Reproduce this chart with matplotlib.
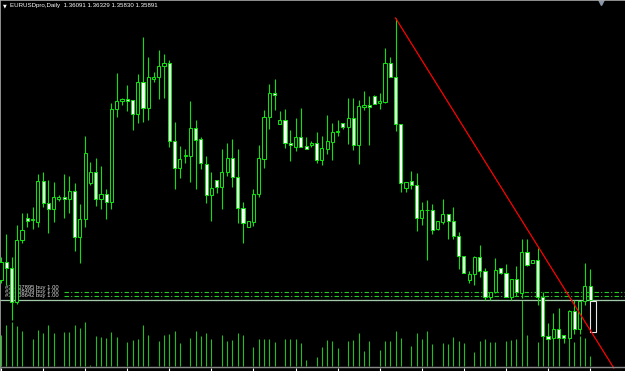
import numpy as np
import matplotlib.pyplot as plt
from matplotlib.patches import Rectangle

# EURUSDpro daily candles (oldest -> newest)
title = 'EURUSDpro,Daily  1.36091 1.36329 1.35830 1.35891'
opens = [1.3618, 1.3643, 1.3635, 1.3586, 1.3675, 1.3706, 1.3704, 1.3701, 1.3759, 1.3728,
         1.3719, 1.3733, 1.3736, 1.3733, 1.3745, 1.3679, 1.3705, 1.3756, 1.3772, 1.3733,
         1.3741, 1.3729, 1.3862, 1.3873, 1.3876, 1.3875, 1.3855, 1.3901, 1.3864, 1.3905,
         1.3908, 1.3923, 1.3928, 1.3816, 1.3778, 1.3795, 1.3795, 1.3835, 1.3819, 1.3784,
         1.3739, 1.3760, 1.3751, 1.3772, 1.3792, 1.3765, 1.3721, 1.3693, 1.3701, 1.3741,
         1.3790, 1.3851, 1.3885, 1.3841, 1.3846, 1.3813, 1.3808, 1.3822, 1.3809, 1.3811,
         1.3813, 1.3789, 1.3805, 1.3815, 1.3829, 1.3842, 1.3836, 1.3849, 1.3811, 1.3865,
         1.3868, 1.3881, 1.3871, 1.3872, 1.3928, 1.3908, 1.3841, 1.3749, 1.3759, 1.3753,
         1.3706, 1.3717, 1.3717, 1.3691, 1.3701, 1.3712, 1.3702, 1.3680, 1.3652, 1.3617,
         1.3626, 1.3650, 1.3631, 1.3593, 1.3601, 1.3635, 1.3628, 1.3593, 1.3619, 1.3599,
         1.3658, 1.3642, 1.3646, 1.3593, 1.3538, 1.3535, 1.3547, 1.3539, 1.3535, 1.3573,
         1.3548, 1.3588, 1.36091]
highs = [1.3651, 1.3683, 1.3651, 1.3696, 1.3713, 1.3713, 1.3722, 1.3769, 1.3772, 1.3761,
         1.3758, 1.3739, 1.3769, 1.3766, 1.3756, 1.3726, 1.3823, 1.3786, 1.3792, 1.3781,
         1.3748, 1.3871, 1.3913, 1.3878, 1.3896, 1.3875, 1.3912, 1.3965, 1.3936, 1.3915,
         1.3946, 1.3941, 1.3932, 1.3843, 1.3809, 1.3805, 1.3873, 1.3846, 1.3822, 1.3795,
         1.3772, 1.3761, 1.3805, 1.3813, 1.3819, 1.3805, 1.3729, 1.3702, 1.3748, 1.3811,
         1.3861, 1.3898, 1.3905, 1.3859, 1.3862, 1.3832, 1.3849, 1.3864, 1.3822, 1.3816,
         1.3829, 1.3823, 1.3854, 1.3842, 1.3846, 1.3842, 1.3878, 1.3878, 1.3875, 1.3888,
         1.3881, 1.3882, 1.3885, 1.3949, 1.3936, 1.3992, 1.3841, 1.3758, 1.3774, 1.3770,
         1.3729, 1.3732, 1.3726, 1.3702, 1.3733, 1.3712, 1.3722, 1.3686, 1.3652, 1.3631,
         1.3652, 1.3668, 1.3635, 1.3601, 1.3649, 1.3635, 1.3641, 1.3619, 1.3638, 1.3676,
         1.3676, 1.3646, 1.3664, 1.3601, 1.3556, 1.3571, 1.3578, 1.3539, 1.3575, 1.3589,
         1.3588, 1.3642, 1.36329]
lows = [1.3613, 1.3611, 1.3561, 1.3583, 1.3671, 1.3693, 1.3691, 1.3693, 1.3722, 1.3685,
        1.3701, 1.3731, 1.3706, 1.3713, 1.3659, 1.3642, 1.3693, 1.3753, 1.3723, 1.3719,
        1.3705, 1.3719, 1.3851, 1.3868, 1.3859, 1.3832, 1.3842, 1.3843, 1.3846, 1.3901,
        1.3876, 1.3878, 1.3808, 1.3748, 1.3763, 1.3785, 1.3758, 1.3748, 1.3776, 1.3728,
        1.3702, 1.3742, 1.3719, 1.3766, 1.3751, 1.3699, 1.3671, 1.3693, 1.3695, 1.3736,
        1.3778, 1.3833, 1.3861, 1.3841, 1.3806, 1.3788, 1.3802, 1.3808, 1.3805, 1.3808,
        1.3785, 1.3782, 1.3798, 1.3789, 1.3823, 1.3833, 1.3812, 1.3803, 1.3784, 1.3861,
        1.3811, 1.3869, 1.3862, 1.3871, 1.3908, 1.3831, 1.3743, 1.3743, 1.3748, 1.3688,
        1.3696, 1.3646, 1.3683, 1.3689, 1.3698, 1.3676, 1.3676, 1.3633, 1.3628, 1.3613,
        1.3611, 1.3622, 1.3589, 1.3589, 1.3599, 1.3626, 1.3593, 1.3589, 1.3595, 1.3592,
        1.3638, 1.3642, 1.3582, 1.3538, 1.3534, 1.3535, 1.3535, 1.3527, 1.3533, 1.3541,
        1.3541, 1.3582, 1.35830]
closes = [1.3643, 1.3635, 1.3586, 1.3675, 1.3689, 1.3702, 1.3705, 1.3759, 1.3728, 1.3719,
          1.3736, 1.3736, 1.3733, 1.3745, 1.3679, 1.3705, 1.3799, 1.3772, 1.3733, 1.3741,
          1.3729, 1.3862, 1.3873, 1.3876, 1.3873, 1.3855, 1.3901, 1.3864, 1.3908, 1.3908,
          1.3923, 1.3928, 1.3816, 1.3778, 1.3790, 1.3796, 1.3835, 1.3818, 1.3785, 1.3739,
          1.3749, 1.3751, 1.3772, 1.3792, 1.3765, 1.3721, 1.3699, 1.3702, 1.3741, 1.3792,
          1.3851, 1.3885, 1.3882, 1.3846, 1.3813, 1.3811, 1.3822, 1.3808, 1.3805, 1.3813,
          1.3789, 1.3806, 1.3816, 1.3829, 1.3831, 1.3836, 1.3849, 1.3811, 1.3866, 1.3868,
          1.3865, 1.3869, 1.3873, 1.3928, 1.3908, 1.3841, 1.3756, 1.3758, 1.3753, 1.3706,
          1.3717, 1.3717, 1.3689, 1.3702, 1.3712, 1.3702, 1.3680, 1.3652, 1.3628, 1.3626,
          1.3650, 1.3631, 1.3593, 1.3601, 1.3632, 1.3628, 1.3593, 1.3619, 1.3601, 1.3658,
          1.3639, 1.3646, 1.3593, 1.3538, 1.3534, 1.3547, 1.3535, 1.3535, 1.3573, 1.3548,
          1.3588, 1.3609, 1.35891]
# tick volumes (nan = bar not visible in the screenshot)
nan = np.nan
volumes = [7750, 10250, 11000, 10000, 8750, nan, 6750, 9000, 8250, 10250,
           8250, nan, 8500, 8500, 10250, 9500, 11000, 250, 7500, 7250,
           7000, 8500, 7250, nan, 6000, 6500, 6750, 10250, 7750, nan,
           6250, 7750, 8000, 8750, 5750, nan, 7000, 8750, 7500, 8250,
           6750, nan, 7750, 6250, 6500, 8250, 7750, nan, 4750, 6750,
           6750, 6750, 6000, nan, 6750, 6750, 6750, 5750, 1500, nan,
           2250, 4750, 6500, 6250, 4500, nan, 6250, 6500, 8250, 3750,
           6250, nan, 4000, 6250, 6250, 8750, 7000, nan, 5000, 8250,
           6750, 8750, 5500, nan, 5750, 5500, 7250, 6250, 5750, nan,
           3500, 6250, 6750, 6000, 6000, nan, 6250, 6500, 6750, 16500,
           7750, nan, 6000, 16500, 8000, 8750, 9500, nan, 9000, 6000,
           7500, 7000, 2500]

order_tickets = ['#31407895', '#31408409', '#31408642']
order_prices = [1.36010, 1.35953, 1.35887]
bid_price = 1.35891
trend_start = (75, 1.3992)
trend_end = (116.5, 1.3492)
ghost_top, ghost_bottom = 1.3588, 1.3543

green = '#10e010'
idx = np.arange(len(opens))
o = np.array(opens); h = np.array(highs); l = np.array(lows); c = np.array(closes)
v = np.array(volumes, dtype=float)
bull = c > o

fig = plt.figure(figsize=(6.25, 3.71), dpi=100, facecolor='black')
ax = fig.add_axes([0, 0, 1, 1])
axv = ax.twinx()
ax.set_zorder(2)
axv.set_zorder(1)
ax.patch.set_visible(False)
axv.set_facecolor('black')

# volumes in their own scale at the bottom
ok = ~np.isnan(v)
axv.vlines(idx[ok], 0, v[ok], color='#1fbf1f', lw=0.8)
axv.set_ylim(-1250, 91500)
axv.axis('off')

# trade levels and bid line
ax.hlines(order_prices, 12, 119, colors='#26cc26', linestyles=(0, (4, 2, 1, 2)), lw=0.8, zorder=1)
ax.axhline(bid_price, color='#a2c9aa', lw=0.9, zorder=1.5)
for t, p in zip(order_tickets, order_prices):
    ax.text(0.8, p + 0.00064, t + ' buy 1.00', color='#d8d8d8', fontsize=4.2,
            family='Liberation Sans', va='center', ha='left', zorder=1.8)

# candles
ax.vlines(idx, l, h, color=green, lw=0.8, zorder=3)
ax.bar(idx, np.abs(c - o), bottom=np.minimum(o, c), width=0.6,
       color=np.where(bull, 'black', 'white'), edgecolor=green, linewidth=0.75, zorder=4)
ax.add_patch(Rectangle((112.0, ghost_bottom), 1.1, ghost_top - ghost_bottom,
                       facecolor='black', edgecolor='#e8e8e8', lw=0.8, zorder=4))

# trend line
ax.plot([trend_start[0], trend_end[0]], [trend_start[1], trend_end[1]], color='red', lw=0.9, zorder=5)

ax.set_xlim(-0.19, 118.63)
ax.set_ylim(1.34877, 1.40177)
ax.set_xticks(np.arange(0, len(opens), 8))
ax.set_yticks([])
ax.tick_params(axis='x', direction='in', length=2.5, width=0.8, color='white', labelbottom=False)
for s in ['right', 'bottom']:
    ax.spines[s].set_visible(False)
for s in ['left', 'top']:
    ax.spines[s].set_color('#a8a8a8')
    ax.spines[s].set_linewidth(1.2)
ax.plot([0, 1], [4 / 371, 4 / 371], transform=ax.transAxes, color='#8a8a8a', lw=1.0, zorder=6)

# header
ax.text(2.5 / 625, 1 - 6 / 371, '\u25bc', transform=ax.transAxes, color='white', fontsize=3.5,
        va='center', ha='left')
ax.text(10 / 625, 1 - 6 / 371, title, transform=ax.transAxes, color='white', fontsize=4.4,
        family='Liberation Sans', va='center', ha='left')
ax.plot([601 / 625], [1 - 2 / 371], transform=ax.transAxes, marker='v', ms=4,
        color='#8898a8', clip_on=False)

fig.savefig('out.png', dpi=100, facecolor='black')
